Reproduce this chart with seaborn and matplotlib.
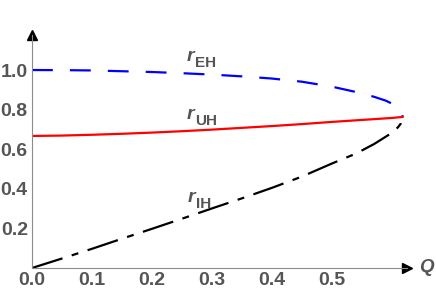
import numpy as np
import pandas as pd
import matplotlib
matplotlib.use("Agg")
import matplotlib.pyplot as plt
import seaborn as sns
from matplotlib.ticker import FixedLocator

# ---------------------------------------------------------------------------
# Données
# ---------------------------------------------------------------------------
q_vals = [0.0, 0.05, 0.1, 0.15, 0.2, 0.25, 0.3, 0.35, 0.4, 0.45, 0.5,
          0.54, 0.57, 0.59, 0.60, 0.61, 0.615, 0.618]
r_eh = [1.0, 0.9995, 0.998, 0.994, 0.99, 0.984, 0.977, 0.968, 0.957, 0.941, 0.916,
        0.889, 0.865, 0.845, 0.83, 0.808, 0.79, 0.763]
r_uh = [0.667, 0.669, 0.673, 0.678, 0.684, 0.691, 0.699, 0.708, 0.717, 0.727, 0.738,
        0.746, 0.752, 0.756, 0.758, 0.761, 0.762, 0.763]
r_ih = [0.0, 0.048, 0.097, 0.148, 0.198, 0.249, 0.301, 0.352, 0.405, 0.462, 0.528,
        0.578, 0.626, 0.664, 0.683, 0.711, 0.731, 0.763]

x_ticks = [0.0, 0.1, 0.2, 0.3, 0.4, 0.5]
y_ticks = [0.2, 0.4, 0.6, 0.8, 1.0]
labels = [("EH", 0.258, 1.047), ("UH", 0.258, 0.751), ("IH", 0.26, 0.332)]

GRAY_TXT = "#555555"
GRAY_AX = "#8c8c8c"

sns.set_style("white")
plt.rcParams["font.family"] = ["Liberation Sans", "DejaVu Sans"]
plt.rcParams["lines.scale_dashes"] = False

df = pd.DataFrame({"Q": q_vals, "EH": r_eh, "UH": r_uh, "IH": r_ih})

fig = plt.figure(figsize=(4.36, 2.96), dpi=100)
ax = fig.add_axes([32 / 436, 28 / 296, 375 / 436, 233 / 296])

sns.lineplot(data=df, x="Q", y="EH", ax=ax, color="#0000ff", lw=1.6,
             linestyle=(0, (15, 12.3)), sort=False)
sns.lineplot(data=df, x="Q", y="UH", ax=ax, color="#ff0000", lw=1.6, sort=False)
sns.lineplot(data=df, x="Q", y="IH", ax=ax, color="black", lw=1.6,
             linestyle=(0, (23, 7, 5, 7)), sort=False)

ax.set_xlim(0, 0.625)
ax.set_ylim(0, 1.177)

# --- axes façon Mathematica ---
for side in ["top", "right"]:
    ax.spines[side].set_visible(False)
for side in ["left", "bottom"]:
    ax.spines[side].set_color(GRAY_AX)
    ax.spines[side].set_linewidth(0.8)

ax.plot(1, 0, ">", color="black", ms=7, transform=ax.get_yaxis_transform(), clip_on=False)
ax.plot(0, 1, "^", color="black", ms=7, transform=ax.get_xaxis_transform(), clip_on=False)

ax.xaxis.set_major_locator(FixedLocator(x_ticks))
ax.xaxis.set_minor_locator(FixedLocator([v for v in np.arange(0.02, 0.59, 0.02)]))
ax.yaxis.set_major_locator(FixedLocator(y_ticks))
ax.yaxis.set_minor_locator(FixedLocator([v for v in np.arange(0.05, 1.16, 0.05)]))
ax.tick_params(which="major", direction="in", length=4, width=0.8, color=GRAY_AX,
               labelsize=14, labelcolor=GRAY_TXT, pad=3)
ax.tick_params(which="minor", direction="in", length=2.5, width=0.6, color=GRAY_AX)
ax.set_xticklabels([f"{v:.1f}" for v in x_ticks], fontweight="bold")
ax.set_yticklabels([f"{v:.1f}" for v in y_ticks], fontweight="bold")
ax.set_xlabel("")
ax.set_ylabel("")

# --- étiquettes des courbes ---
for sub, xq, yr in labels:
    ax.text(xq, yr, "r", fontsize=14, fontstyle="italic", fontweight="bold",
            color=GRAY_TXT, ha="left", va="baseline")
    ax.annotate(sub, (xq, yr), xytext=(5.8, -4.3), textcoords="offset points",
                fontsize=11, fontweight="bold", color=GRAY_TXT, ha="left", va="baseline")

ax.text(0.645, 0, "Q", fontsize=13.5, fontstyle="italic", fontweight="bold",
        color=GRAY_TXT, ha="left", va="center", clip_on=False)

plt.savefig("out.png", dpi=100)
plt.close()
